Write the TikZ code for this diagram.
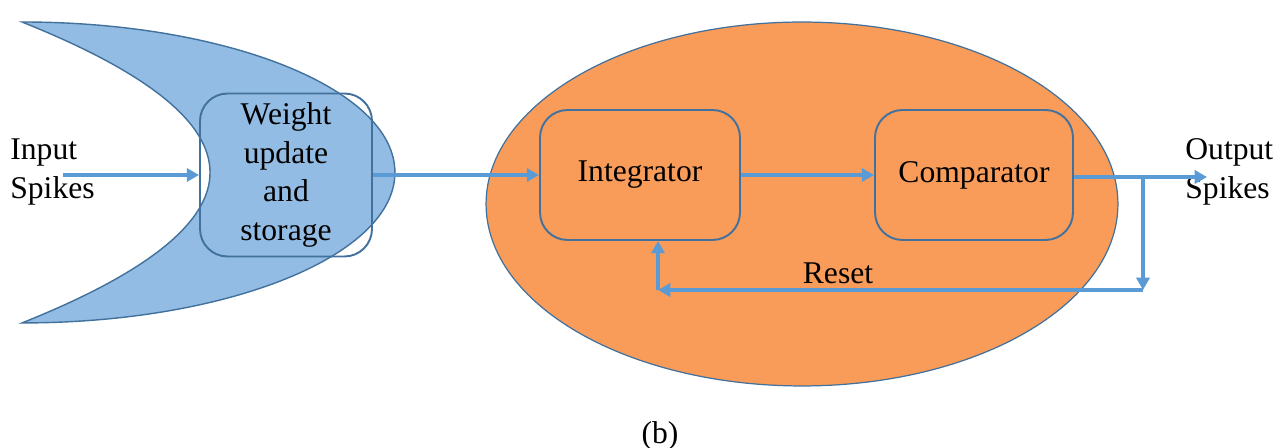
\documentclass[tikz,border=0pt]{standalone}
\usepackage{fontspec}
\setmainfont{Liberation Serif}
\usepackage{tikz}
\usetikzlibrary{arrows.meta}

\definecolor{crescentblue}{RGB}{146,188,227}
\definecolor{cellorange}{RGB}{249,156,90}
\definecolor{edgeblue}{RGB}{65,113,156}
\definecolor{wireblue}{RGB}{91,155,213}

\begin{document}
\begin{tikzpicture}[x=0.02cm,y=-0.02cm,
  font=\fontsize{18}{22}\selectfont,
  block/.style={draw=edgeblue,line width=1.1pt,rounded corners=0.55cm,align=center,inner sep=0pt},
  wire/.style={draw=wireblue,line width=1.9pt,-{Triangle[length=7pt,width=7.5pt]}},
  label/.style={inner sep=0pt,align=left}]
  \useasboundingbox (0,0) rectangle (1285,448);

  % synapse crescent and neuron body
  \draw[fill=crescentblue,draw=edgeblue,line width=0.8pt]
    (22,22) arc[start angle=90,end angle=-90,x radius=7.46cm,y radius=3.01cm]
    .. controls (272.7,222.7) and (272.7,122.3) .. cycle;
  \draw[fill=cellorange,draw=edgeblue,line width=0.7pt]
    (802,204) ellipse[x radius=6.32cm,y radius=3.64cm];

  \node[block,minimum width=3.44cm,minimum height=3.26cm] (wu) at (286,175) {Weight\\update\\and\\storage};
  \node[block,minimum width=4cm,minimum height=2.6cm] (int) at (640,175) {Integrator};
  \node[block,minimum width=3.96cm,minimum height=2.6cm] (cmp) at (974,175) {Comparator};

  \node[label,anchor=west] (inlbl) at (10,172) {Input\\Spikes};
  \node[label,anchor=west] (outlbl) at (1185,172) {Output\\Spikes};
  \node[inner sep=0pt] (reset) at (838,273) {Reset};
  \node[inner sep=0pt] (cap) at (660,436) {(b)};

  \coordinate (in) at (63,175);
  \coordinate (out) at (1207,177);
  \coordinate (split) at (1143,177);
  \coordinate (rc) at (1143,290);
  \coordinate (lc) at (658,290);

  \path[wire] (in) -- (wu.west);
  \path[wire] (wu.east) -- (int.west);
  \path[wire] (int.east) -- (cmp.west);
  \path[wire] (cmp.east |- out) -- (out);
  \path[wire] (split) -- (rc);
  \path[wire] (rc) -- (lc);
  \path[wire] (lc) -- (lc |- int.south);
\end{tikzpicture}
\end{document}
